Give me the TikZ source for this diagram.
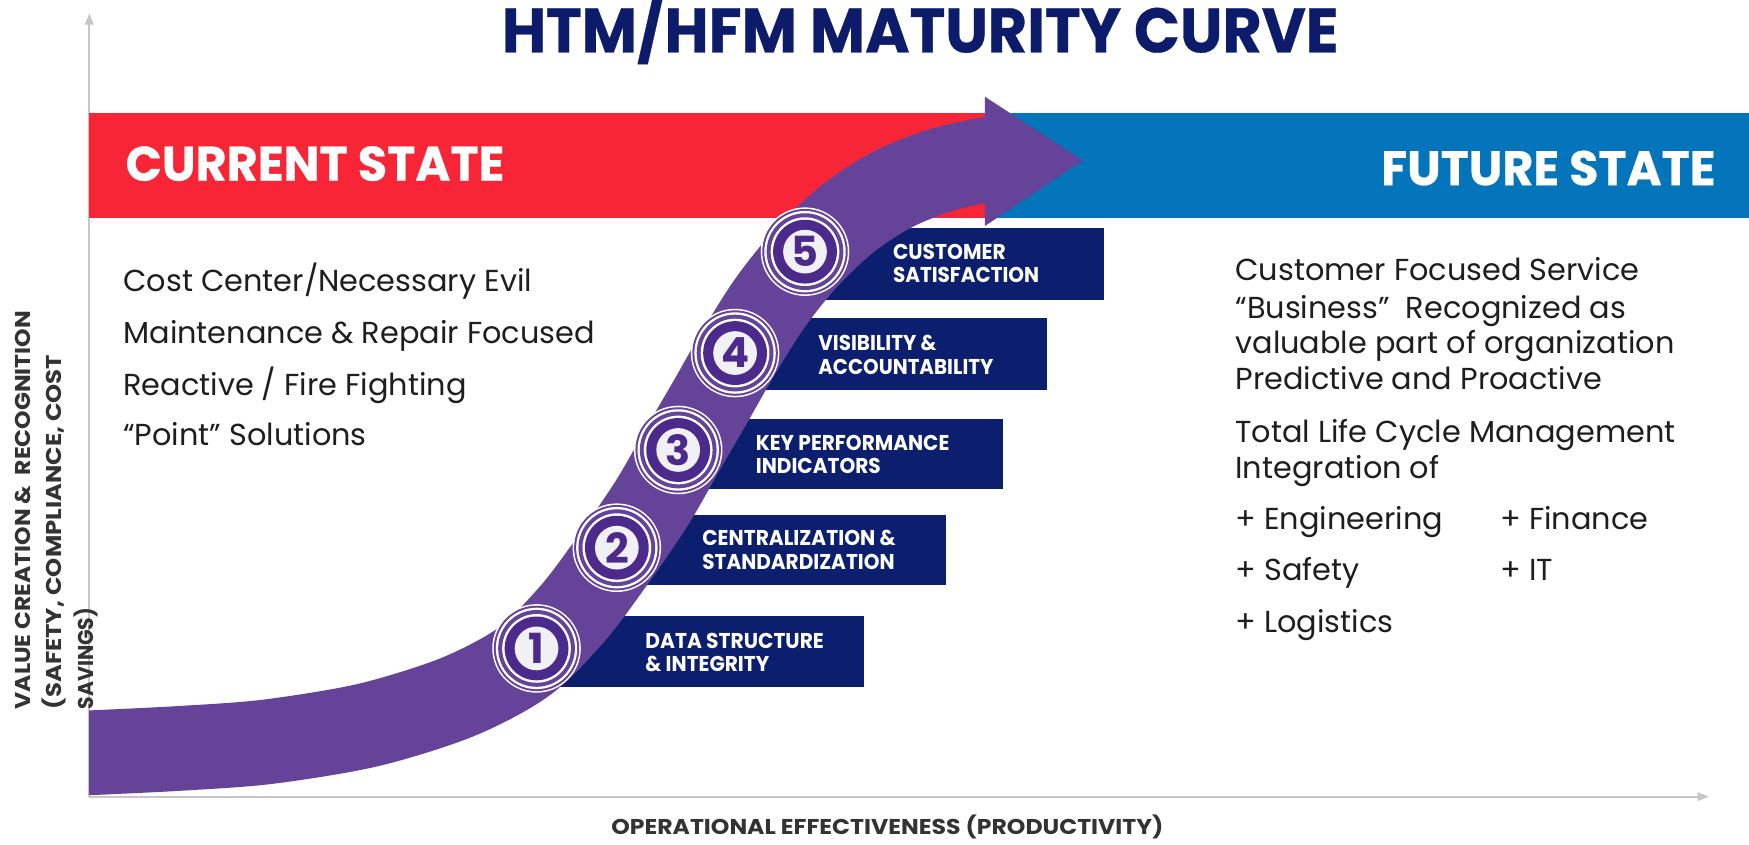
\documentclass[tikz,border=0pt]{standalone}
\usepackage{fontspec}
\usepackage{graphicx}
\setmainfont{Poppins}
\newfontfamily\heavyfont{Poppins}[BoldFeatures={FakeBold=0.5}]
\usetikzlibrary{arrows.meta}
\definecolor{arrowpurple}{HTML}{654399}
\definecolor{ringpurple}{HTML}{4B2A8C}
\definecolor{diskgrey}{HTML}{F1F0F4}
\definecolor{navy}{HTML}{0B1F6E}
\definecolor{titlenavy}{HTML}{0C1C6B}
\definecolor{redbar}{HTML}{F72535}
\definecolor{bluebar}{HTML}{0475BB}
\definecolor{axisgrey}{HTML}{C6C6C6}
\definecolor{bodytext}{HTML}{1E1E1E}
\definecolor{labeltext}{HTML}{333333}
\newsavebox\fitbox
\newcommand\fitw[2]{\sbox\fitbox{#2}\pgfmathsetmacro\fitsc{#1*0.31736/\the\wd\fitbox}\scalebox{\fitsc}[1]{\usebox\fitbox}}
\tikzset{
  body/.style={anchor=base west, inner sep=0, text=bodytext, font=\fontsize{8.63}{10}\selectfont},
  boxlbl/.style={anchor=west, inner sep=0, text=white, align=left, font=\bfseries\fontsize{6.1}{6.66}\selectfont},
  statelbl/.style={anchor=base west, inner sep=0, text=white, font=\heavyfont\bfseries\fontsize{13.8}{16}\selectfont},
  axislbl/.style={inner sep=0, text=labeltext, font=\bfseries\fontsize{6.1}{9}\selectfont},
  numlbl/.style={inner sep=0, text=ringpurple, font=\bfseries\fontsize{11.8}{12}\selectfont},
  axisline/.style={draw=axisgrey, line width=0.65pt, -{Triangle[length=3.2pt,width=2.4pt]}},
  shaft/.style={draw=arrowpurple, line width=24.1pt},
  navybox/.style={fill=navy},
}
\begin{document}
\begin{tikzpicture}[x=0.011154cm, y=-0.011154cm]
\useasboundingbox (0,0) rectangle (1568,757);
\fill[white] (0,0) rectangle (1568,757);

% axes
\coordinate (O) at (80,714.2);
\coordinate (ytop) at (80,12);
\coordinate (xend) at (1532,714.2);
\draw[axisline] (O) -- (ytop);
\draw[axisline] (O) -- (xend);

% state bars
\fill[redbar] (80,101.6) rectangle (889,195);
\fill[bluebar] (889,101.6) rectangle (1568,195);
\node[statelbl] (cur) at (112,162) {\fitw{339.6}{CURRENT STATE}};
\node[statelbl] (fut) at (1237.6,166) {\fitw{299.7}{FUTURE STATE}};

% step boxes
\fill[navybox] (481,552) rectangle (775,616);
\fill[navybox] (553,461.7) rectangle (848,524);
\fill[navybox] (608,376) rectangle (899,438);
\fill[navybox] (659,285.4) rectangle (938.5,349.6);
\fill[navybox] (722,204.7) rectangle (990,268.5);

\node[boxlbl] (l1) at (578,585.2) {\fitw{160}{DATA STRUCTURE}\\\fitw{111}{\& INTEGRITY}};
\node[boxlbl] (l2) at (629,493.1) {\fitw{173.4}{CENTRALIZATION \&}\\\fitw{172.4}{STANDARDIZATION}};
\node[boxlbl] (l3) at (677,407.6) {\fitw{173.5}{KEY PERFORMANCE}\\\fitw{112}{INDICATORS}};
\node[boxlbl] (l4) at (733,318.2) {\fitw{106}{VISIBILITY \&}\\\fitw{157}{ACCOUNTABILITY}};
\node[boxlbl] (l5) at (800,236.1) {\fitw{101}{CUSTOMER}\\\fitw{131}{SATISFACTION}};

% maturity arrow
\begin{scope}
\clip (80,0) rectangle (1568,757);
\draw[shaft] plot[smooth, tension=0.5] coordinates {(78,675) (160,671) (240,665) (330,650) (410,625) (470,593) (515,548) (553,497) (585,450) (612,403) (637,360) (661,318) (690,272) (722,232) (760,196) (800,170) (845,152) (895,141)};
\end{scope}
\fill[arrowpurple] (883,86.7) -- (970.7,144) -- (883,202.6) -- cycle;

% numbered circles
\foreach \i/\cx/\cy in {1/481/581.3, 2/553/491, 3/608/403.4, 4/659/316.5, 5/721.7/225.6} {
  \fill[white] (\cx,\cy) circle (39.7);
  \fill[arrowpurple] (\cx,\cy) circle (38.3);
  \fill[white] (\cx,\cy) circle (36.5);
  \fill[arrowpurple] (\cx,\cy) circle (34.4);
  \fill[white] (\cx,\cy) circle (30.8);
  \fill[ringpurple] (\cx,\cy) circle (28.6);
  \fill[diskgrey] (\cx,\cy) circle (19.6);
  \node[numlbl] (n\i) at (\cx,\cy) {\i};
}

% title
\node[anchor=base, inner sep=0, text=titlenavy, font=\heavyfont\bfseries\fontsize{17.9}{20}\selectfont] (title) at (825,47) {\fitw{750}{HTM/HFM MATURITY CURVE}};

% current state text
\node[body] (c1) at (110,261.5) {Cost Center/Necessary Evil};
\node[body] (c2) at (110,307.5) {Maintenance \& Repair Focused};
\node[body] (c3) at (110,354.5) {Reactive / Fire Fighting};
\node[body] (c4) at (110,399.5) {“Point” Solutions};

% future state text
\node[body] (f1) at (1107,251.6) {Customer Focused Service};
\node[body] (f2) at (1107,285.4) {“Business”\ \ Recognized as};
\node[body] (f3) at (1107,316.8) {valuable part of organization};
\node[body] (f4) at (1107,348.8) {Predictive and Proactive};
\node[body] (f5) at (1107,396.9) {Total Life Cycle Management};
\node[body] (f6) at (1107,428.8) {Integration of};
\node[body] (f7) at (1107,474.6) {+ Engineering};
\node[body] (f8) at (1344.4,474.6) {+ Finance};
\node[body] (f9) at (1107,520.6) {+ Safety};
\node[body] (f10) at (1344.4,520.6) {+ IT};
\node[body] (f11) at (1107,567.2) {+ Logistics};

% axis labels
\node[axislbl, rotate=90, anchor=north west, align=left] (ylbl) at (12.7,636.6) {\fitw{357}{VALUE CREATION \&\ \ RECOGNITION}\\\fitw{318}{(SAFETY, COMPLIANCE, COST}\\\fitw{91}{SAVINGS)}};
\node[axislbl, anchor=base] (xlbl) at (795.5,748.5) {\fitw{495}{OPERATIONAL EFFECTIVENESS (PRODUCTIVITY)}};
\end{tikzpicture}
\end{document}
